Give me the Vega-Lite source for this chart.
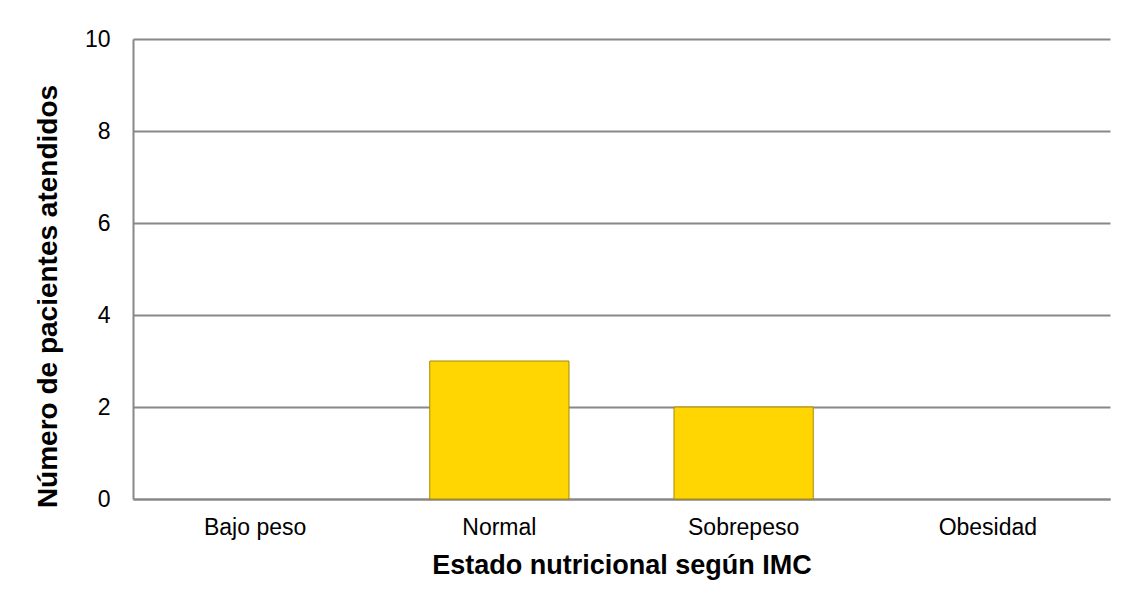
{
  "$schema": "https://vega.github.io/schema/vega-lite/v6.json",
  "width": 977,
  "height": 460,
  "autosize": {"type": "none"},
  "padding": {"left": 133, "top": 39, "right": 20, "bottom": 110},
  "background": "white",
  "config": {
    "font": "Liberation Sans",
    "view": {"stroke": null}
  },
  "data": {
    "values": [
      {"estado": "Bajo peso", "pacientes": 0},
      {"estado": "Normal", "pacientes": 3},
      {"estado": "Sobrepeso", "pacientes": 2},
      {"estado": "Obesidad", "pacientes": 0}
    ]
  },
  "transform": [{"filter": "datum.pacientes > 0"}],
  "mark": {"type": "bar", "color": "#FFD602", "stroke": "#A88800", "strokeWidth": 1},
  "encoding": {
    "x": {
      "field": "estado",
      "type": "nominal",
      "sort": null,
      "scale": {"domain": ["Bajo peso", "Normal", "Sobrepeso", "Obesidad"], "paddingInner": 0.43, "paddingOuter": 0.215},
      "axis": {
        "title": "Estado nutricional según IMC",
        "titleFont": "Liberation Sans",
        "titleFontSize": 27,
        "titleFontWeight": "bold",
        "titleColor": "#000000",
        "titlePadding": 13,
        "labelAngle": 0,
        "labelFontSize": 23,
        "labelColor": "#000000",
        "labelPadding": 17,
        "ticks": false,
        "domainColor": "#888888",
        "domainWidth": 2,
        "grid": false
      }
    },
    "y": {
      "field": "pacientes",
      "type": "quantitative",
      "scale": {"domain": [0, 10]},
      "axis": {
        "title": "Número de pacientes atendidos",
        "titleFont": "Liberation Sans",
        "titleFontSize": 28,
        "titleFontWeight": "bold",
        "titleColor": "#000000",
        "titlePadding": 22,
        "titleY": 257,
        "values": [0, 2, 4, 6, 8, 10],
        "labelFontSize": 23,
        "labelColor": "#000000",
        "labelPadding": 23,
        "ticks": false,
        "domainColor": "#888888",
        "domainWidth": 2,
        "grid": true,
        "gridColor": "#888888",
        "gridWidth": 2
      }
    }
  }
}
